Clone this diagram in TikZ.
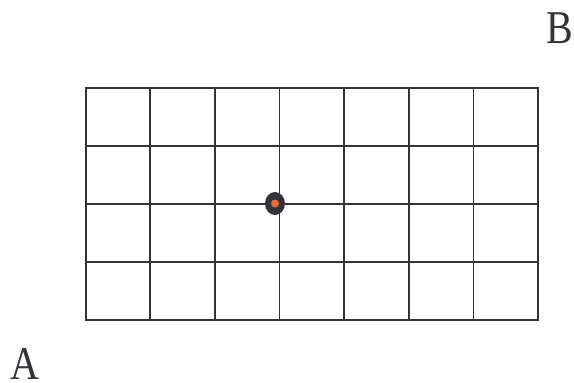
\documentclass[tikz,border=0pt]{standalone}
\usepackage{fontspec}
\setmainfont{Liberation Serif}
\usetikzlibrary{shapes.geometric}
\definecolor{ink}{HTML}{333338}
\definecolor{dotorange}{HTML}{E8693A}
\tikzset{gridline/.style={draw=ink, line width=1.7pt},
  lbl/.style={text=ink, font=\fontsize{47}{52}\selectfont, inner sep=0pt, text depth=0pt, anchor=base, xscale=0.85}}
\begin{document}
\begin{tikzpicture}[x=1pt,y=-1pt]
\useasboundingbox (0,0) rectangle (574,383);
\foreach \i in {0,...,7} {
  \draw[gridline] (85.7+\i*64.62,87.7) -- (85.7+\i*64.62,320);
}
\foreach \j in {0,...,4} {
  \draw[gridline, line cap=rect] (85.7,87.7+\j*58.07) -- (538,87.7+\j*58.07);
}
\node[ellipse, fill=ink, minimum width=20pt, minimum height=23pt, inner sep=0pt] (dot) at (275,203.5) {};
\node[circle, fill=dotorange, minimum size=8pt, inner sep=0pt] (core) at (dot.center) {};
\node[lbl] (A) at (24.5,379) {A};
\node[lbl] (B) at (560,43) {B};
\end{tikzpicture}
\end{document}
